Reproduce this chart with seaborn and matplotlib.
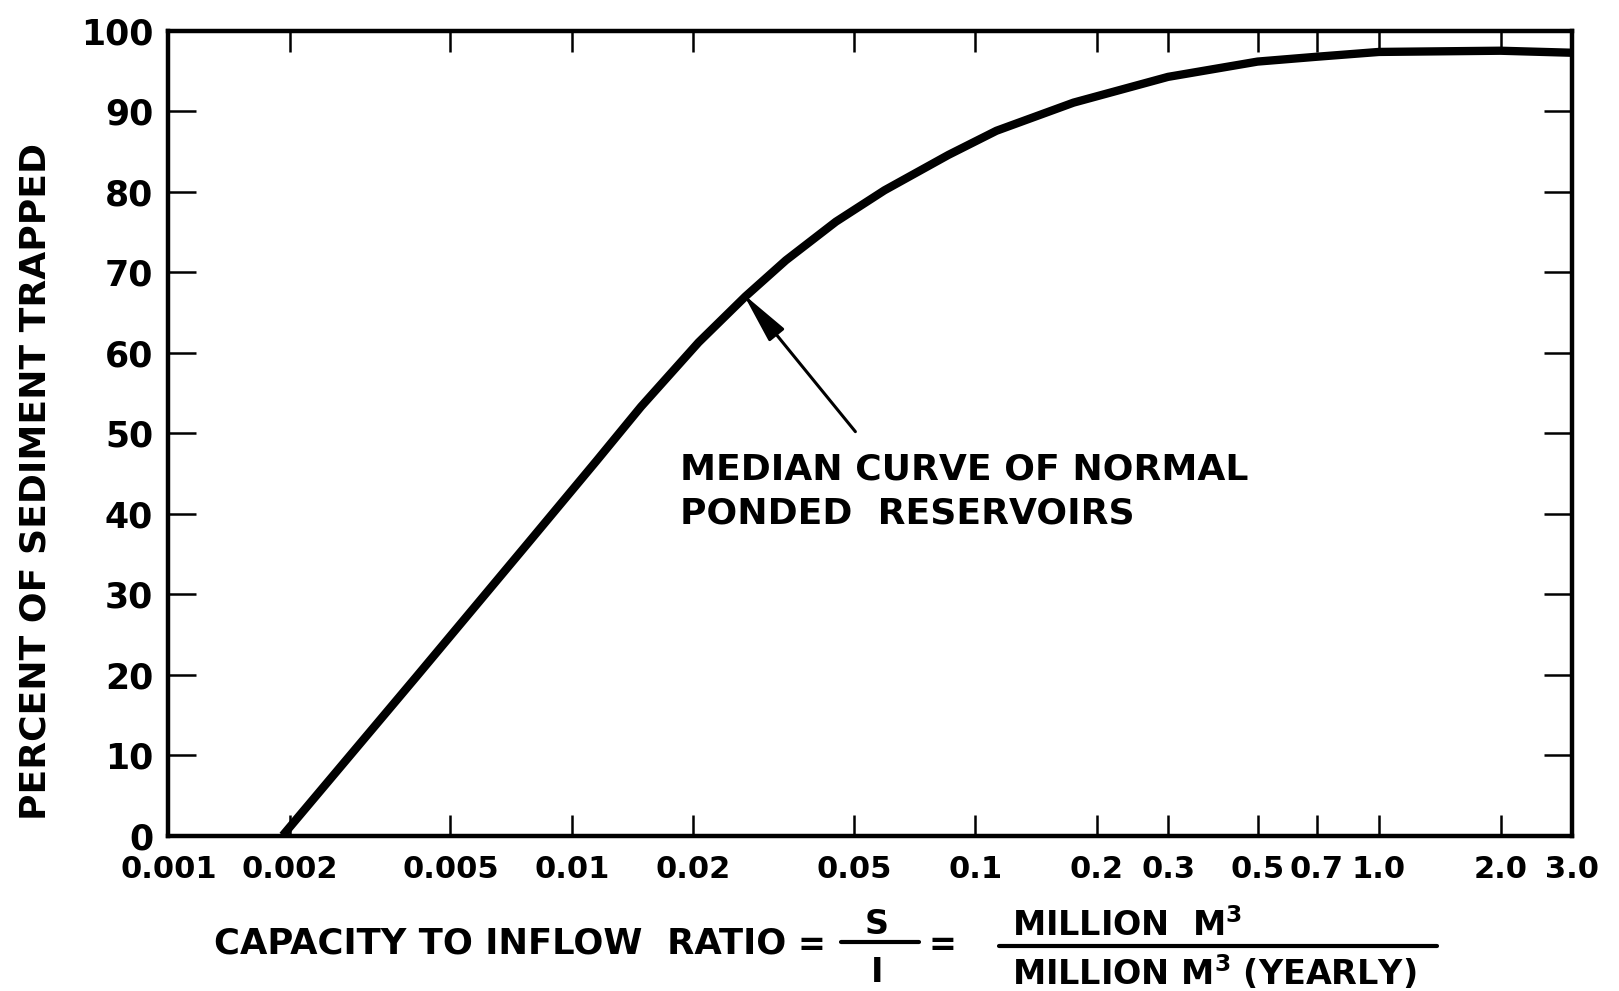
import matplotlib
matplotlib.use("Agg")
import matplotlib.pyplot as plt
from matplotlib.lines import Line2D
import pandas as pd
import seaborn as sns

# Median trap-efficiency curve (capacity/inflow ratio vs. percent trapped)
ratio = [0.00192, 0.00411, 0.00777, 0.01152, 0.01483, 0.0206, 0.0269, 0.0339,
         0.0451, 0.0595, 0.0857, 0.1127, 0.175, 0.3, 0.5, 0.7, 1.0, 2.0, 3.0]
trapped = [0.0, 19.7, 36.3, 46.6, 53.3, 61.3, 67.0, 71.5,
           76.3, 80.2, 84.6, 87.6, 91.1, 94.3, 96.2, 96.8, 97.4, 97.55, 97.3]

x_ticks = [0.001, 0.002, 0.005, 0.01, 0.02, 0.05, 0.1, 0.2, 0.3, 0.5, 0.7, 1.0, 2.0, 3.0]
x_tick_labels = ["0.001", "0.002", "0.005", "0.01", "0.02", "0.05", "0.1",
                 "0.2", "0.3", "0.5", "0.7", "1.0", "2.0", "3.0"]
y_ticks = [0, 10, 20, 30, 40, 50, 60, 70, 80, 90, 100]

# annotation arrow: tail near label, head on the curve
arrow_head = (0.0266, 67.3)
arrow_tail = (0.0504, 50.2)

sns.set_theme(style="ticks")
plt.rcParams["font.family"] = ["DejaVu Sans"]
plt.rcParams["mathtext.fontset"] = "dejavusans"
plt.rcParams["text.color"] = "black"
plt.rcParams["axes.labelcolor"] = "black"
plt.rcParams["xtick.color"] = "black"
plt.rcParams["ytick.color"] = "black"
plt.rcParams["xtick.labelcolor"] = "black"
plt.rcParams["ytick.labelcolor"] = "black"

W, H = 1619, 991
fig = plt.figure(figsize=(W / 100, H / 100), dpi=100)
ax = fig.add_axes([0.1040, 0.1569, 0.8667, 0.8118])

df = pd.DataFrame({"ratio": ratio, "trapped": trapped})
sns.lineplot(data=df, x="ratio", y="trapped", color="black", linewidth=6,
             estimator=None, sort=True, ax=ax, solid_capstyle="butt")

ax.set_xscale("log")
ax.set_xlim(0.001, 3.0)
ax.set_ylim(0, 100)
ax.set_xticks(x_ticks)
ax.set_xticklabels(x_tick_labels)
ax.xaxis.set_minor_locator(matplotlib.ticker.NullLocator())
ax.set_yticks(y_ticks)
ax.set_xlabel("")
ax.set_ylabel("")

for s in ax.spines.values():
    s.set_visible(True)
    s.set_linewidth(3.2)
    s.set_color("black")

ax.tick_params(axis="x", which="major", direction="in", top=True, bottom=True,
               length=15, width=1.8, pad=14, color="black", labelcolor="black")
ax.tick_params(axis="y", which="major", direction="in", left=True, right=True,
               length=20, width=1.8, pad=11, color="black", labelcolor="black")
for lab in ax.get_xticklabels():
    lab.set_fontweight("bold")
    lab.set_fontsize(22)
for lab in ax.get_yticklabels():
    lab.set_fontweight("bold")
    lab.set_fontsize(25)

ax.annotate("", xy=arrow_head, xytext=arrow_tail,
            arrowprops=dict(arrowstyle="-|>,head_length=1.05,head_width=0.2",
                            mutation_scale=30, color="black", lw=2.2,
                            shrinkA=0, shrinkB=0))


def fx(px):
    return px / W


def fy(py):
    return 1 - py / H


ax.text(fx(680), fy(470), "MEDIAN CURVE OF NORMAL", transform=fig.transFigure,
        ha="left", va="center", fontsize=26, fontweight="bold", color="black")
ax.text(fx(680), fy(513), "PONDED  RESERVOIRS", transform=fig.transFigure,
        ha="left", va="center", fontsize=26, fontweight="bold", color="black")

fig.text(fx(36), fy(481), "PERCENT OF SEDIMENT TRAPPED", rotation=90,
         ha="center", va="center", fontsize=26, fontweight="bold", color="black")

lab_kw = dict(fontweight="bold", fontsize=24, color="black")
fig.text(fx(214), fy(944), "CAPACITY TO INFLOW  RATIO", ha="left", va="center",
         fontweight="bold", fontsize=25.5, color="black")
fig.text(fx(811), fy(945), "=", ha="center", va="center", **lab_kw)
fig.text(fx(877), fy(925), "S", ha="center", va="center", **lab_kw)
fig.text(fx(877), fy(972), "I", ha="center", va="center", **lab_kw)
fig.add_artist(Line2D([fx(841), fx(919)], [fy(942), fy(942)], color="black",
                      lw=3.0, transform=fig.transFigure))
fig.text(fx(942), fy(945), "=", ha="center", va="center", **lab_kw)
fig.add_artist(Line2D([fx(999), fx(1437)], [fy(946), fy(946)], color="black",
                      lw=3.0, transform=fig.transFigure))
fig.text(fx(1012), fy(926), r"MILLION  M$^{\mathbf{3}}$", ha="left", va="center", **lab_kw)
fig.text(fx(1012), fy(973), r"MILLION M$^{\mathbf{3}}$ (YEARLY)", ha="left", va="center", **lab_kw)

fig.savefig("out.png", dpi=100, facecolor="white")
